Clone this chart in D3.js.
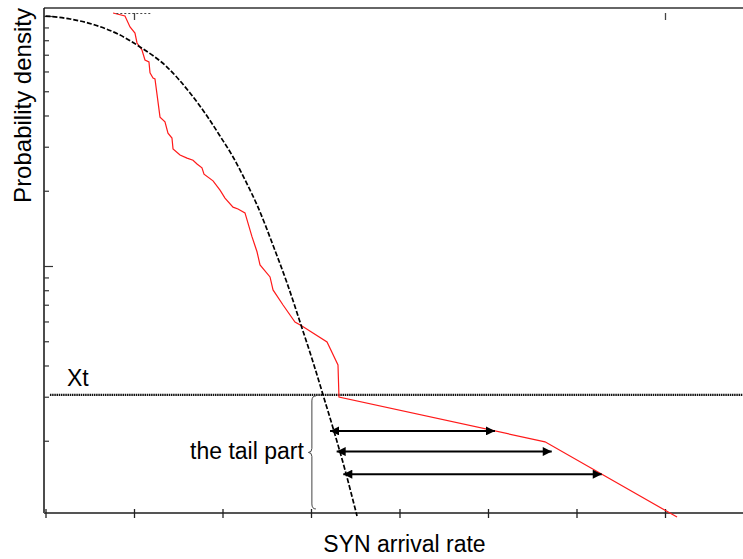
<!DOCTYPE html>
<html>
<head>
<meta charset="utf-8">
<script src="https://cdn.jsdelivr.net/npm/d3@7"></script>
<style>
  html, body { margin: 0; padding: 0; background: #fff; }
  svg { display: block; font-family: "Liberation Sans", Arial, sans-serif; }
</style>
</head>
<body>
<svg id="chart" width="743" height="559"></svg>
<script>
// ---------- data ----------
const xTicks = [0, 1, 2, 3, 4, 5, 6, 7];
const xTopTicks = [1, 7];
const yMajorTicks = [0.1, 1];
const yMinorTicks = [0.02, 0.03, 0.04, 0.05, 0.06, 0.07, 0.08, 0.09,
                     0.2, 0.3, 0.4, 0.5, 0.6, 0.7, 0.8, 0.9];

// fitted (model) density - black dashed
const modelX = [0.00, 0.277, 0.559, 0.819, 1.068, 1.373, 1.633, 1.825, 1.972, 2.119, 2.277, 2.401, 2.571, 2.729, 2.898, 3.023, 3.136, 3.249, 3.384, 3.520];
const modelY = [1.000, 0.973, 0.920, 0.847, 0.752, 0.625, 0.492, 0.398, 0.331, 0.273, 0.213, 0.172, 0.121, 0.0855, 0.0565, 0.0413, 0.0305, 0.0225, 0.0153, 0.0100];

// empirical density - red
const empX = [0.763, 0.898, 0.955, 1.011, 1.034, 1.090, 1.124, 1.169, 1.181, 1.215, 1.237, 1.294, 1.350, 1.384, 1.429, 1.441, 1.520, 1.599, 1.667, 1.712, 1.768, 1.791, 1.893, 1.972, 2.028, 2.119, 2.175, 2.254, 2.333, 2.390, 2.424, 2.537, 2.571, 2.684, 2.819, 2.898, 3.181, 3.305, 3.316, 5.644, 7.136];
const empY = [1.028, 1.000, 0.904, 0.855, 0.780, 0.731, 0.667, 0.655, 0.592, 0.565, 0.560, 0.394, 0.377, 0.340, 0.325, 0.294, 0.278, 0.270, 0.265, 0.256, 0.247, 0.233, 0.219, 0.201, 0.187, 0.172, 0.169, 0.163, 0.131, 0.114, 0.101, 0.0904, 0.0802, 0.0698, 0.0597, 0.0575, 0.0497, 0.0402, 0.0299, 0.0198, 0.0099];

// small dotted fragment near the top
const topDotsX = [0.80, 1.20];
const topDotsY = [1.023, 1.023];

// threshold Xt
const xtValue = 0.0305;
const xtStart = 0.05;

// tail arrows (left end on model, right end on empirical)
const arrowY = [0.0219, 0.0181, 0.0147];
const arrowLeft = [3.215, 3.290, 3.365];
const arrowRight = [5.079, 5.720, 6.285];

// brace for "the tail part"
const braceX = 3.01;
const braceBottom = 0.01067;

const xLabel = "SYN arrival rate";
const yLabel = "Probability density";
const xtLabel = "Xt";
const tailLabel = "the tail part";

// ---------- layout ----------
const W = 743, H = 559;
const padL = 44, padT = 8, padB = 513, padR = 743;

const x = d3.scaleLinear().domain([0, 7]).range([45.5, 665]);
const y = d3.scaleLog().domain([0.01, 1]).range([516, 16]);
const xMax = x.invert(padR);

const svg = d3.select("#chart");

// frame lines
svg.append("line").attr("x1", padL).attr("x2", padR).attr("y1", padT).attr("y2", padT)
  .attr("stroke", "#333").attr("stroke-width", 1.5);
svg.append("line").attr("x1", padL).attr("x2", padL).attr("y1", padT).attr("y2", padB)
  .attr("stroke", "#111").attr("stroke-width", 1.5);
svg.append("line").attr("x1", padL).attr("x2", padR).attr("y1", padB).attr("y2", padB)
  .attr("stroke", "#555").attr("stroke-width", 2);

// y axis ticks (inward)
const yMinorAxis = d3.axisRight(y).tickValues(yMinorTicks).tickSize(5).tickFormat("");
const gyMin = svg.append("g").attr("transform", `translate(${padL},0)`).call(yMinorAxis);
const yMajorAxis = d3.axisRight(y).tickValues(yMajorTicks).tickSize(9).tickFormat("");
const gyMaj = svg.append("g").attr("transform", `translate(${padL},0)`).call(yMajorAxis);
[gyMin, gyMaj].forEach(g => {
  g.select(".domain").remove();
  g.selectAll(".tick line").attr("stroke", "#333").attr("stroke-width", 1.2);
});

// x axis ticks (crossing)
const xAxisDown = d3.axisBottom(x).tickValues(xTicks).tickSize(5).tickFormat("");
const xAxisUp = d3.axisTop(x).tickValues(xTicks).tickSize(4).tickFormat("");
[xAxisDown, xAxisUp].forEach(ax => {
  const g = svg.append("g").attr("transform", `translate(0,${padB})`).call(ax);
  g.select(".domain").remove();
  g.selectAll(".tick line").attr("stroke", "#222").attr("stroke-width", 1.3);
});
// top ticks
const gTop = svg.append("g").attr("transform", `translate(0,${padT + 5})`)
  .call(d3.axisBottom(x).tickValues(xTopTicks).tickSize(7).tickFormat(""));
gTop.select(".domain").remove();
gTop.selectAll(".tick line").attr("stroke", "#444").attr("stroke-width", 1.3);

// Xt threshold
svg.append("line")
  .attr("x1", x(xtStart)).attr("x2", x(xMax))
  .attr("y1", y(xtValue)).attr("y2", y(xtValue))
  .attr("stroke", "#111").attr("stroke-width", 2.2).attr("stroke-dasharray", "1.5,0.7");

// empirical (red)
const empData = empX.map((v, i) => [v, empY[i]]);
svg.append("path").datum(empData)
  .attr("fill", "none").attr("stroke", "#ff1a1a").attr("stroke-width", 1.2)
  .attr("d", d3.line().x(d => x(d[0])).y(d => y(d[1])));

// model (black dashed)
const modelData = modelX.map((v, i) => [v, modelY[i]]);
svg.append("path").datum(modelData)
  .attr("fill", "none").attr("stroke", "#000").attr("stroke-width", 1.7)
  .attr("stroke-dasharray", "5,2")
  .attr("d", d3.line().curve(d3.curveMonotoneX).x(d => x(d[0])).y(d => y(d[1])));

// top dotted fragment
const topData = topDotsX.map((v, i) => [v, topDotsY[i]]);
svg.append("path").datum(topData)
  .attr("fill", "none").attr("stroke", "#444").attr("stroke-width", 1)
  .attr("stroke-dasharray", "2,2")
  .attr("d", d3.line().x(d => x(d[0])).y(d => y(d[1])));

// arrows
const defs = svg.append("defs");
defs.append("marker").attr("id", "arrEnd")
  .attr("viewBox", "0 0 10 10").attr("refX", 10).attr("refY", 5)
  .attr("markerWidth", 11).attr("markerHeight", 9).attr("markerUnits", "userSpaceOnUse")
  .attr("orient", "auto")
  .append("path").attr("d", "M0,0 L10,5 L0,10 Z").attr("fill", "#000");
defs.append("marker").attr("id", "arrStart")
  .attr("viewBox", "0 0 10 10").attr("refX", 0).attr("refY", 5)
  .attr("markerWidth", 11).attr("markerHeight", 9).attr("markerUnits", "userSpaceOnUse")
  .attr("orient", "auto")
  .append("path").attr("d", "M10,0 L0,5 L10,10 Z").attr("fill", "#000");

svg.append("g").selectAll("line").data(arrowY).join("line")
  .attr("x1", (d, i) => x(arrowLeft[i])).attr("x2", (d, i) => x(arrowRight[i]))
  .attr("y1", d => y(d)).attr("y2", d => y(d))
  .attr("stroke", "#000").attr("stroke-width", 2)
  .attr("marker-start", "url(#arrStart)").attr("marker-end", "url(#arrEnd)");

// brace
{
  const bx = x(braceX);
  const y0 = y(xtValue) + 1, y1 = y(braceBottom);
  const ym = (y0 + y1) / 2;
  const p = d3.path();
  p.moveTo(bx + 4, y0);
  p.quadraticCurveTo(bx, y0, bx, y0 + 5);
  p.lineTo(bx, ym - 4);
  p.quadraticCurveTo(bx, ym, bx - 3.5, ym);
  p.quadraticCurveTo(bx, ym, bx, ym + 4);
  p.lineTo(bx, y1 - 5);
  p.quadraticCurveTo(bx, y1, bx + 4, y1);
  svg.append("path").attr("d", p.toString())
    .attr("fill", "none").attr("stroke", "#444").attr("stroke-width", 1);
}

// texts
svg.append("text").attr("x", 67).attr("y", 386)
  .attr("font-size", 23).attr("fill", "#000").text(xtLabel);
svg.append("text").attr("x", x(braceX) - 8).attr("y", 459).attr("text-anchor", "end")
  .attr("font-size", 23).attr("fill", "#000").text(tailLabel);
svg.append("text").attr("x", 404.5).attr("y", 552).attr("text-anchor", "middle")
  .attr("font-size", 23).attr("fill", "#000").text(xLabel);
svg.append("text").attr("transform", "translate(31,105.5) rotate(-90)")
  .attr("text-anchor", "middle").attr("font-size", 24).attr("fill", "#000").text(yLabel);
</script>
</body>
</html>
